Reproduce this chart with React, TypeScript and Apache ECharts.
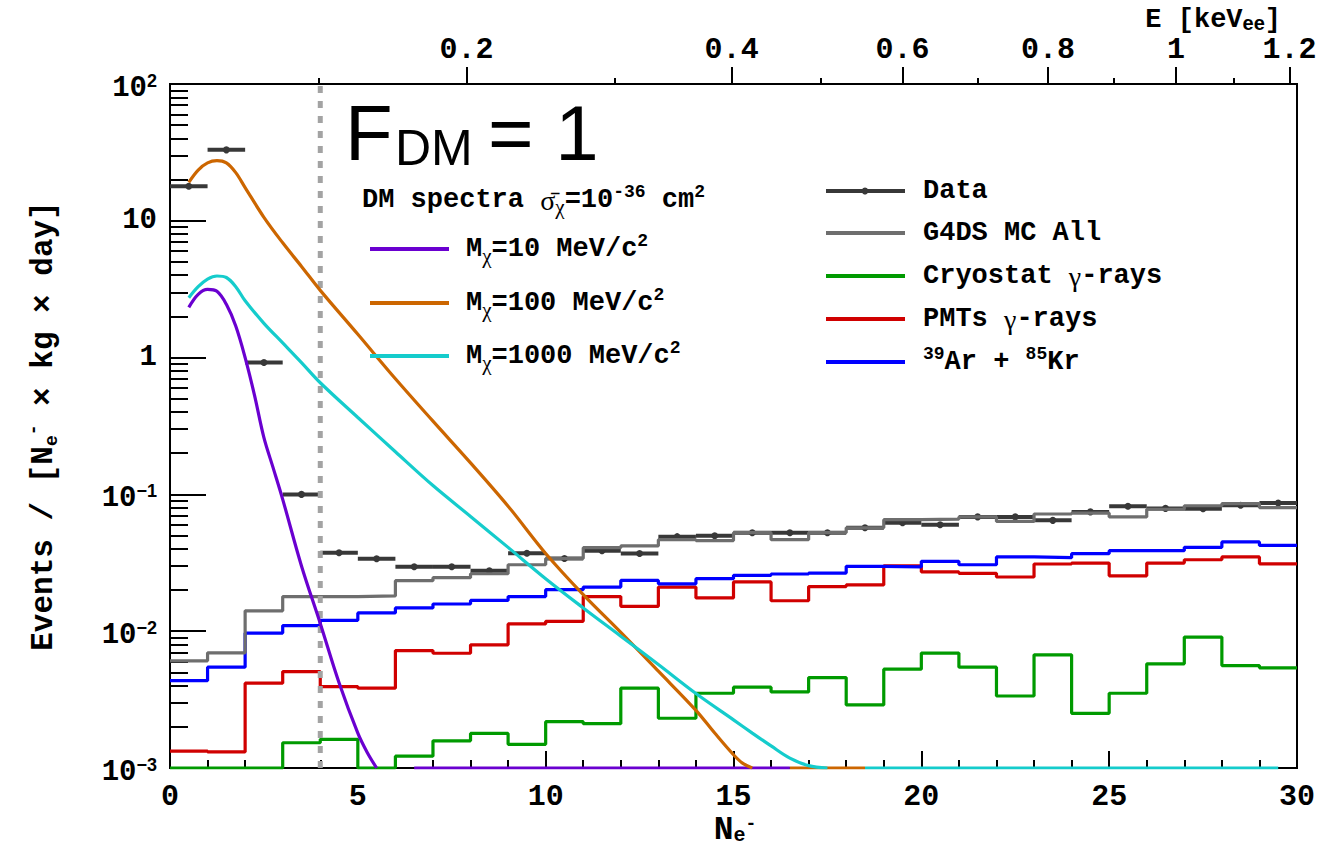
import React, { useEffect, useRef } from 'react';
import * as echarts from 'echarts';

// ---------- data ----------
const binEdges = [0, 1, 2, 3, 4, 5, 6, 7, 8, 9, 10, 11, 12, 13, 14, 15, 16, 17, 18, 19, 20, 21, 22, 23, 24, 25, 26, 27, 28, 29, 30];
const binCenters = [0.5, 1.5, 2.5, 3.5, 4.5, 5.5, 6.5, 7.5, 8.5, 9.5, 10.5, 11.5, 12.5, 13.5, 14.5, 15.5, 16.5, 17.5, 18.5, 19.5, 20.5, 21.5, 22.5, 23.5, 24.5, 25.5, 26.5, 27.5, 28.5, 29.5];

const dataValues = [17.9, 33.0, 0.92, 0.1, 0.0375, 0.0339, 0.0296, 0.0296, 0.0277, 0.0371, 0.034, 0.0388, 0.037, 0.0491, 0.0498, 0.0525, 0.0525, 0.0525, 0.057, 0.062, 0.06, 0.0685, 0.0685, 0.0646, 0.0745, 0.0818, 0.079, 0.0785, 0.0832, 0.0866];
const mcAllValues = [0.00607, 0.00695, 0.0141, 0.0179, 0.0179, 0.0181, 0.0234, 0.0246, 0.0263, 0.0306, 0.034, 0.0408, 0.042, 0.0467, 0.046, 0.0525, 0.0467, 0.0525, 0.057, 0.0654, 0.066, 0.0685, 0.0634, 0.0719, 0.073, 0.0685, 0.0779, 0.0826, 0.0855, 0.08];
const cryostatValues = [0.001, 0.001, 0.001, 0.00153, 0.00162, 0.001, 0.00122, 0.00158, 0.00179, 0.00149, 0.00218, 0.00211, 0.00383, 0.00231, 0.00352, 0.0039, 0.0036, 0.00458, 0.00289, 0.00528, 0.00692, 0.00546, 0.00336, 0.00672, 0.00251, 0.00352, 0.00577, 0.00906, 0.00561, 0.0054];
const pmtValues = [0.00133, 0.00131, 0.00417, 0.00507, 0.00394, 0.00383, 0.00722, 0.0069, 0.00795, 0.0113, 0.0118, 0.0179, 0.0152, 0.021, 0.0175, 0.0229, 0.0167, 0.0212, 0.0218, 0.0301, 0.0271, 0.0265, 0.0249, 0.031, 0.0315, 0.0254, 0.0315, 0.0333, 0.0349, 0.0311];
const arKrValues = [0.00435, 0.00546, 0.00969, 0.011, 0.012, 0.0136, 0.0148, 0.0158, 0.0168, 0.0179, 0.0201, 0.021, 0.0235, 0.0222, 0.0242, 0.0256, 0.0262, 0.0266, 0.0298, 0.0295, 0.0324, 0.0306, 0.0349, 0.0345, 0.0369, 0.0388, 0.0388, 0.041, 0.0449, 0.0424];

const dm10X = [0.5, 0.75, 1.0, 1.25, 1.5, 1.75, 2.0, 2.25, 2.5, 2.75, 3.0, 3.5, 4.0, 4.5, 5.0, 5.25, 5.5, 6.0, 6.5, 16.5];
const dm10Y = [2.33, 2.9, 3.15, 3.05, 2.45, 1.7, 1.0, 0.53, 0.26, 0.155, 0.092, 0.03, 0.0114, 0.0042, 0.0018, 0.0013, 0.001, null, 0.001, 0.001];
const dm100X = [0.5, 0.75, 1.0, 1.25, 1.5, 1.75, 2.0, 2.5, 3, 3.5, 4, 5, 6, 7, 8, 9, 10, 11, 12, 13, 14, 14.5, 15, 15.25, 15.5, 16, 16.5, 18.5];
const dm100Y = [19.1, 23.5, 26.5, 27.5, 26.5, 22.5, 17.5, 10.6, 6.9, 4.64, 3.1, 1.48, 0.7, 0.343, 0.17, 0.082, 0.037, 0.0185, 0.0098, 0.0051, 0.00264, 0.0018, 0.00125, 0.00108, 0.001, null, 0.001, 0.001];
const dm1000X = [0.5, 0.75, 1.0, 1.25, 1.5, 1.75, 2.0, 2.5, 3, 3.5, 4, 5, 6, 7, 8, 9, 10, 11, 12, 13, 14, 15, 15.5, 16, 16.5, 17, 17.5, 18, 18.5, 29.5];
const dm1000Y = [2.74, 3.3, 3.75, 3.95, 3.85, 3.3, 2.6, 1.78, 1.28, 0.92, 0.655, 0.365, 0.205, 0.116, 0.069, 0.041, 0.0242, 0.0148, 0.0092, 0.0057, 0.0035, 0.00225, 0.0018, 0.00145, 0.00118, 0.00104, 0.001, null, 0.001, 0.001];

const thresholdNe = 4;
const yRange = [0.001, 100];

const eTickNe = [7.89, 14.95, 19.5, 23.37, 26.78, 29.8];
const eTickLabels = ['0.2', '0.4', '0.6', '0.8', '1', '1.2'];
const eMinorNe = [3.97, 11.83, 17.32, 21.5, 25.13, 28.32];

const yMajorTicks = [0.001, 0.01, 0.1, 1, 10, 100];
const yMajorLabels = ['{b|10}{s|−3}', '{b|10}{s|−2}', '{b|10}{s|−1}', '{c|1}', '{c|10}', '{b|10}{s|2}'];
const yMinorMultipliers = [2, 3, 4, 5, 6, 7, 8, 9];

const bkgNames = ['Data', 'G4DS MC All', 'Cryostat γ-rays', 'PMTs γ-rays', '39Ar + 85Kr'];
const bkgLegendRich = ['{b|Data}', '{b|G4DS MC All}', '{b|Cryostat }{g|γ}{b|-rays}', '{b|PMTs }{g|γ}{b|-rays}', '{sup|39}{b|Ar + }{sup|85}{b|Kr}'];
const dmNames = ['Mχ=10 MeV/c2', 'Mχ=100 MeV/c2', 'Mχ=1000 MeV/c2'];
const dmLegendRich = ['{b|M}{subg|χ}{b|=10 MeV/c}{sup|2}', '{b|M}{subg|χ}{b|=100 MeV/c}{sup|2}', '{b|M}{subg|χ}{b|=1000 MeV/c}{sup|2}'];

// ---------- style ----------
const mono = '"Liberation Mono", "Courier New", monospace';
const sans = '"Liberation Sans", Arial, sans-serif';
const serif = '"Liberation Serif", "Times New Roman", serif';

const C_DATA = '#383838';
const C_MC = '#6e6e6e';
const C_GREEN = '#009a00';
const C_RED = '#d00000';
const C_BLUE = '#0000ff';
const C_PURPLE = '#6a00d0';
const C_ORANGE = '#cc6600';
const C_CYAN = '#15cccc';

const richText = {
  b: { fontSize: 27, fontWeight: 'bold', fontFamily: mono, lineHeight: 34, verticalAlign: 'middle', fill: '#000' },
  g: { fontSize: 28, fontFamily: serif, lineHeight: 34, verticalAlign: 'middle', fill: '#000' },
  sub: { fontSize: 18, fontWeight: 'bold', fontFamily: mono, verticalAlign: 'bottom', fill: '#000' },
  subg: { fontSize: 21, fontFamily: serif, verticalAlign: 'bottom', fill: '#000' },
  sup: { fontSize: 18, fontWeight: 'bold', fontFamily: mono, verticalAlign: 'top', fill: '#000' },
  ee: { fontSize: 20, fontWeight: 'bold', fontFamily: sans, verticalAlign: 'bottom', padding: [0, 0, 4, 0], fill: '#000' },
  bigb: { fontSize: 31, fontWeight: 'bold', fontFamily: mono, lineHeight: 36, verticalAlign: 'middle', fill: '#000' },
  nb: { fontSize: 33, fontWeight: 'bold', fontFamily: mono, lineHeight: 30, verticalAlign: 'middle', fill: '#000' },
  nsub: { fontSize: 20, fontWeight: 'bold', fontFamily: mono, verticalAlign: 'bottom', fill: '#000' },
  nsup: { fontSize: 18, fontWeight: 'bold', fontFamily: mono, verticalAlign: 'top', fill: '#000' },
};

function txt(x: number, y: number, text: string, align = 'left', extra: any = {}) {
  return {
    type: 'text',
    x,
    y,
    silent: true,
    z: 100,
    ...extra,
    style: {
      text,
      rich: richText,
      align,
      textAlign: align,
      verticalAlign: 'middle',
      textVerticalAlign: 'middle',
      fill: '#000',
      ...(extra.style || {}),
    },
  };
}

function histData(vals: number[]) {
  const pts: any[] = vals.map((v, i) => [binEdges[i], v]);
  pts.push([binEdges[binEdges.length - 1], vals[vals.length - 1]]);
  return pts;
}

function curveData(xs: number[], ys: (number | null)[]) {
  return xs.map((x, i) => [x, ys[i] === null ? '-' : ys[i]]);
}

function nearestLabel(v: number, ticks: number[], labels: string[], log = false) {
  let best = 0;
  let bd = Infinity;
  ticks.forEach((t, i) => {
    const d = log ? Math.abs(Math.log10(t) - Math.log10(v)) : Math.abs(t - v);
    if (d < bd) { bd = d; best = i; }
  });
  return labels[best];
}

function buildOption() {
  const yMinor: number[] = [];
  [0.001, 0.01, 0.1, 1, 10].forEach((d) => yMinorMultipliers.forEach((m) => yMinor.push(+(d * m).toPrecision(3))));

  const histSeries = (name: string, vals: number[], color: string) => ({
    name,
    type: 'line',
    step: 'end',
    data: histData(vals),
    showSymbol: false,
    symbol: 'none',
    lineStyle: { color, width: 3.2 },
    itemStyle: { color },
    xAxisIndex: 0,
    yAxisIndex: 0,
  });
  const dmSeries = (name: string, xs: number[], ys: (number | null)[], color: string) => ({
    name,
    type: 'line',
    data: curveData(xs, ys),
    showSymbol: false,
    symbol: 'none',
    smooth: 0.35,
    connectNulls: false,
    lineStyle: { color, width: 3.2 },
    itemStyle: { color },
    xAxisIndex: 0,
    yAxisIndex: 0,
  });

  const legendRight = [C_DATA, C_MC, C_GREEN, C_RED, C_BLUE];
  const legendRightY = [191, 233, 276, 319, 362];
  const legendLeft = [C_PURPLE, C_ORANGE, C_CYAN];
  const legendLeftY = [249, 303, 356];

  const graphics: any[] = [];
  legendRight.forEach((c, i) => {
    graphics.push({ type: 'line', silent: true, z: 100, shape: { x1: 826, y1: legendRightY[i], x2: 905, y2: legendRightY[i] }, style: { stroke: c, lineWidth: 4 } });
    graphics.push(txt(923, legendRightY[i], bkgLegendRich[i]));
  });
  graphics.push({ type: 'circle', silent: true, z: 101, shape: { cx: 865, cy: legendRightY[0], r: 3.5 }, style: { fill: C_DATA } });
  legendLeft.forEach((c, i) => {
    graphics.push({ type: 'line', silent: true, z: 100, shape: { x1: 370, y1: legendLeftY[i], x2: 449, y2: legendLeftY[i] }, style: { stroke: c, lineWidth: 4 } });
    graphics.push(txt(466, legendLeftY[i], dmLegendRich[i]));
  });
  graphics.push(txt(362, 200, '{b|DM spectra }{g|σ\u0304}{subg|χ}{b|=10}{sup|-36}{b| cm}{sup|2}'));
  // F_DM = 1
  graphics.push(txt(345, 133, 'F', 'left', { style: { fontSize: 78, fontFamily: sans, rich: undefined } }));
  graphics.push(txt(395, 148, 'DM', 'left', { style: { fontSize: 50, fontFamily: sans, rich: undefined } }));
  graphics.push(txt(488, 133, '= 1', 'left', { style: { fontSize: 78, fontFamily: sans, rich: undefined } }));
  // axis titles
  graphics.push(txt(1281, 20, '{b|E [keV}{ee|ee}{b|]}', 'right'));
  graphics.push(txt(735, 830, '{nb|N}{nsub|e}{nsup|-}', 'center'));
  graphics.push(txt(43, 426, '{bigb|Events / [N}{sub|e}{sup|-}{bigb| × kg × day]}', 'center', { rotation: Math.PI / 2 }));

  const axisLineStyle = { color: '#000', width: 2 };

  return {
    animation: false,
    backgroundColor: '#fff',
    grid: { left: 170, right: 30, top: 84, bottom: 85, show: true, borderColor: '#000', borderWidth: 2, backgroundColor: 'transparent' },
    xAxis: [
      {
        type: 'value', position: 'bottom', min: 0, max: 30, interval: 5,
        axisLine: { lineStyle: axisLineStyle },
        axisTick: { inside: true, length: 17, lineStyle: axisLineStyle },
        minorTick: { show: true, splitNumber: 5, length: 8, lineStyle: axisLineStyle },
        axisLabel: { margin: 14, fontSize: 30, fontWeight: 'bold', fontFamily: mono, color: '#000' },
        splitLine: { show: false }, minorSplitLine: { show: false },
      },
      {
        type: 'value', position: 'top', min: 0, max: 30,
        axisLine: { show: true, lineStyle: axisLineStyle },
        axisTick: { show: true, inside: false, length: 17, customValues: eTickNe, lineStyle: axisLineStyle },
        axisLabel: {
          show: true, customValues: eTickNe, margin: 19, fontSize: 30, fontWeight: 'bold', fontFamily: mono, color: '#000',
          formatter: (v: number) => nearestLabel(v, eTickNe, eTickLabels),
        },
        splitLine: { show: false },
      },
      {
        type: 'value', position: 'top', min: 0, max: 30,
        axisLine: { show: false },
        axisTick: { show: true, inside: false, length: 6, customValues: eMinorNe, lineStyle: axisLineStyle },
        axisLabel: { show: false },
        splitLine: { show: false },
      },
    ],
    yAxis: [
      {
        type: 'log', logBase: 10, min: yRange[0], max: yRange[1], position: 'left',
        axisLine: { show: true, lineStyle: axisLineStyle },
        axisTick: { show: true, inside: true, length: 36, customValues: yMajorTicks, lineStyle: axisLineStyle },
        axisLabel: {
          show: true, customValues: yMajorTicks, margin: 13, color: '#000',
          formatter: (v: number) => nearestLabel(v, yMajorTicks, yMajorLabels, true),
          rich: {
            b: { fontSize: 29, fontWeight: 'bold', fontFamily: mono, color: '#000', lineHeight: 38, verticalAlign: 'bottom' },
            s: { fontSize: 18, fontWeight: 'bold', fontFamily: sans, color: '#000', verticalAlign: 'top', padding: [7, 0, 0, 0] },
            c: { fontSize: 29, fontWeight: 'bold', fontFamily: mono, color: '#000' },
          },
        },
        splitLine: { show: false },
      },
      {
        type: 'log', logBase: 10, min: yRange[0], max: yRange[1], position: 'left',
        axisLine: { show: false },
        axisTick: { show: true, inside: true, length: 18, customValues: yMinor, lineStyle: axisLineStyle },
        axisLabel: { show: false },
        splitLine: { show: false },
      },
    ],
    graphic: graphics,
    series: [
      histSeries(bkgNames[2], cryostatValues, C_GREEN),
      histSeries(bkgNames[3], pmtValues, C_RED),
      histSeries(bkgNames[4], arKrValues, C_BLUE),
      histSeries(bkgNames[1], mcAllValues, C_MC),
      {
        name: bkgNames[0],
        type: 'custom',
        xAxisIndex: 0,
        yAxisIndex: 0,
        data: binCenters.map((x, i) => [x, dataValues[i]]),
        renderItem: (params: any, api: any) => {
          const x = api.value(0);
          const y = api.value(1);
          const p0 = api.coord([x - 0.5, y]);
          const p1 = api.coord([x + 0.5, y]);
          const c = api.coord([x, y]);
          return {
            type: 'group',
            children: [
              { type: 'line', shape: { x1: p0[0], y1: p0[1], x2: p1[0], y2: p1[1] }, style: { stroke: C_DATA, lineWidth: 4 } },
              { type: 'circle', shape: { cx: c[0], cy: c[1], r: 3.5 }, style: { fill: C_DATA } },
            ],
          };
        },
      },
      {
        name: 'threshold',
        type: 'line',
        data: [[thresholdNe, yRange[0]], [thresholdNe, yRange[1]]],
        showSymbol: false,
        symbol: 'none',
        lineStyle: { color: '#a3a3a3', width: 5, type: [7, 8], cap: 'butt' },
        xAxisIndex: 0,
        yAxisIndex: 0,
        z: 3,
      },
      dmSeries(dmNames[0], dm10X, dm10Y, C_PURPLE),
      dmSeries(dmNames[1], dm100X, dm100Y, C_ORANGE),
      dmSeries(dmNames[2], dm1000X, dm1000Y, C_CYAN),
    ],
  };
}

export default function App() {
  const ref = useRef<HTMLDivElement>(null);
  useEffect(() => {
    if (!ref.current) return;
    const chart = echarts.init(ref.current, null, { renderer: 'svg' });
    chart.setOption(buildOption() as any);
    return () => chart.dispose();
  }, []);
  return <div ref={ref} style={{ position: 'absolute', left: 0, top: 0, width: 1327, height: 853, background: '#fff' }} />;
}
